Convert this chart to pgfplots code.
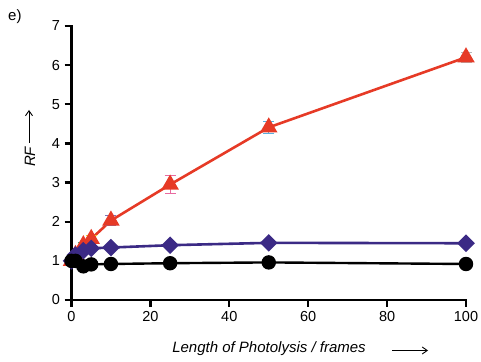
\documentclass[border=0pt]{standalone}
\usepackage{pgfplots}
\pgfplotsset{compat=1.18}
\usepackage{fontspec}
\setmainfont{Liberation Sans}
\usetikzlibrary{arrows.meta}
\definecolor{cred}{HTML}{E63A26}
\definecolor{cblue}{HTML}{3B2A85}
\definecolor{epink}{HTML}{E86AA0}
\definecolor{eblue}{HTML}{5AAEDD}
\definecolor{egray}{HTML}{B8B8B8}
\definecolor{epurple}{HTML}{7B74B8}
\definecolor{eyellow}{HTML}{F2D21B}
\definecolor{egreen}{HTML}{3FA66A}
\begin{document}
\begin{tikzpicture}
\useasboundingbox (0,0) rectangle (481bp,362bp);
\begin{axis}[
  at={(71.5bp,62bp)}, anchor=origin,
  scale only axis, width=394.5bp, height=274bp,
  xmin=0, xmax=100, ymin=0, ymax=7,
  axis lines=left,
  axis line style={-, line width=2.2bp, line cap=rect},
  xtick={0,20,40,60,80,100},
  ytick={0,1,2,3,4,5,6,7},
  tick align=outside,
  major tick length=7bp,
  tick style={line width=2.2bp, black},
  /pgf/number format/assume math mode=true,
  tick label style={font=\fontsize{14.5bp}{17bp}\selectfont},
  xticklabel style={yshift=-1bp},
  yticklabel style={xshift=-1bp},
  clip=false,
]
% red series
\addplot[cred, line width=2.6bp, mark=triangle*, mark size=7.5bp, mark options={solid, fill=cred, draw=cred}]
  coordinates {(0,1.0) (1,1.15) (3,1.40) (5,1.56) (10,2.03) (25,2.95) (50,4.41) (100,6.20)};
% error bars of red series, individually coloured
\addplot[epink, line width=1bp, draw=none, mark=none, error bars/.cd, y dir=both, y explicit, error bar style={epink, line width=1bp}, error mark options={rotate=90, mark size=5.5bp, epink, line width=1bp}]
  coordinates {(25,2.95) +- (0,0.22)};
\addplot[eblue, draw=none, mark=none, error bars/.cd, y dir=both, y explicit, error bar style={eblue, line width=1bp}, error mark options={rotate=90, mark size=5.5bp, eblue, line width=1bp}]
  coordinates {(50,4.41) +- (0,0.15)};
\addplot[egray, draw=none, mark=none, error bars/.cd, y dir=both, y explicit, error bar style={egray, line width=1bp}, error mark options={rotate=90, mark size=5.5bp, egray, line width=1bp}]
  coordinates {(100,6.20) +- (0,0.12)};
\addplot[epurple, draw=none, mark=none, error bars/.cd, y dir=both, y explicit, error bar style={epurple, line width=1bp}, error mark options={rotate=90, mark size=5.5bp, epurple, line width=1bp}]
  coordinates {(10,2.03) +- (0,0.12)};
\addplot[eyellow, draw=none, mark=none, error bars/.cd, y dir=both, y explicit, error bar style={eyellow, line width=1bp}, error mark options={rotate=90, mark size=5.5bp, eyellow, line width=1bp}]
  coordinates {(5,1.56) +- (0,0.10)};
\addplot[egreen, draw=none, mark=none, error bars/.cd, y dir=both, y explicit, error bar style={egreen, line width=1bp}, error mark options={rotate=90, mark size=5.5bp, egreen, line width=1bp}]
  coordinates {(3,1.40) +- (0,0.08)};
% blue series
\addplot[cblue, line width=2.6bp, mark=square*, mark size=4.9bp, mark options={solid, rotate=45, fill=cblue, draw=cblue}]
  coordinates {(0,1.0) (1,1.15) (3,1.26) (5,1.32) (10,1.34) (25,1.40) (50,1.46) (100,1.45)};
% black series
\addplot[black, line width=2.4bp, mark=*, mark size=6bp, mark options={solid, fill=black, draw=black}]
  coordinates {(0,1.0) (1,1.0) (3,0.86) (5,0.91) (10,0.92) (25,0.94) (50,0.96) (100,0.92)};
\end{axis}
\node[anchor=base west, font=\fontsize{15bp}{18bp}\selectfont, inner sep=0pt] at (8bp,341bp) {e)};
\node[anchor=base, font=\fontsize{15bp}{18bp}\selectfont\itshape, inner sep=0pt] at (269bp,9.5bp) {Length of Photolysis / frames};
\draw[line width=0.9bp, -{Straight Barb[length=5bp, width=7bp]}] (392bp,11.5bp) -- (428bp,11.5bp);
\node[anchor=base, rotate=90, font=\fontsize{15bp}{18bp}\selectfont\itshape, inner sep=0pt] at (35bp,205bp) {RF};
\draw[line width=0.9bp, -{Straight Barb[length=5bp, width=7bp]}] (29bp,219bp) -- (29bp,252bp);
\end{tikzpicture}
\end{document}
